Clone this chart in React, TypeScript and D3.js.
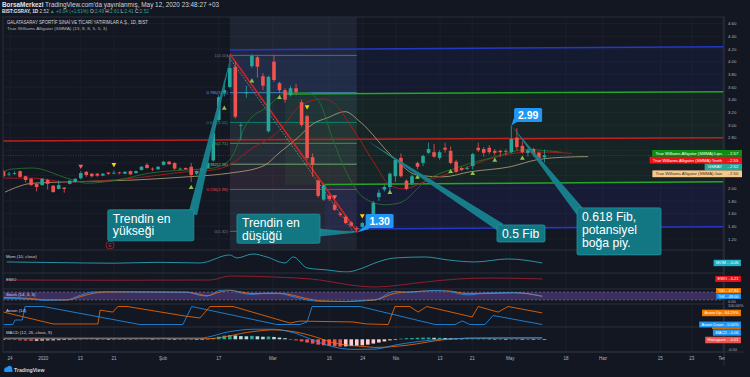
import React from 'react';
import * as d3 from 'd3';

const FONT = "'Liberation Sans', Arial, sans-serif";

// ---------- price candles (bar index 0..98, Dec 2019 -> May 12 2020) ----------
const opens = [2.27,2.22,2.23,2.27,2.19,2.15,2.07,2.05,2.13,2.04, 1.99,2.01,2.07,2.10,2.16,2.26,2.23,2.23,2.20,2.25, 2.24,2.25,2.23,2.27,2.24,2.29,2.37,2.31,2.30,2.37, 2.42,2.40,2.30,2.32,2.34,2.23,2.27,2.32,2.44,3.08, 3.51,3.60,3.92,2.99,3.50,3.93,4.07,3.77,2.90,4.00, 3.66,3.55,3.47,3.58,3.36,3.14,2.49,2.12,1.82,1.88, 1.74,1.60,1.55,1.46,1.37,1.39,1.44,1.58,1.86,1.98, 2.02,2.19,2.48,2.12,2.08,2.40,2.40,2.56,2.57,2.48, 2.64,2.59,2.42,2.32,2.31,2.35,2.64,2.62,2.64,2.59, 2.59,2.59,2.57,2.80,2.67,2.56,2.62,2.56,2.49];
const highs = [2.30,2.26,2.27,2.28,2.20,2.16,2.08,2.16,2.15,2.05, 2.12,2.02,2.13,2.16,2.27,2.27,2.24,2.24,2.24,2.25, 2.28,2.26,2.27,2.28,2.28,2.35,2.40,2.33,2.35,2.43, 2.43,2.41,2.33,2.33,2.40,2.28,2.33,2.41,2.90,3.47, 3.70,4.10,4.00,3.03,3.62,4.12,4.10,3.82,3.78,4.10, 3.68,3.58,3.62,3.65,3.40,3.16,2.55,2.14,2.08,1.90, 1.78,1.62,1.57,1.48,1.40,1.47,1.58,1.80,1.98,2.05, 2.25,2.47,2.55,2.14,2.22,2.42,2.53,2.72,2.70,2.60, 2.72,2.66,2.45,2.34,2.35,2.56,2.72,2.65,2.68,2.62, 2.61,2.62,2.99,2.95,2.74,2.63,2.64,2.58,2.61];
const lows = [2.17,2.19,2.21,2.17,2.09,2.04,1.95,2.04,1.98,1.93, 1.98,1.93,2.06,2.09,2.14,2.18,2.17,2.18,2.19,2.21, 2.22,2.22,2.22,2.21,2.23,2.28,2.31,2.27,2.29,2.36, 2.37,2.29,2.29,2.29,2.10,2.21,2.26,2.31,2.42,3.05, 3.45,3.58,3.10,2.76,3.43,3.90,3.75,3.55,2.88,3.68, 3.50,3.35,3.45,3.48,2.97,2.45,2.18,1.85,1.80,1.80, 1.64,1.55,1.43,1.39,1.30,1.37,1.42,1.56,1.80,1.95, 1.95,2.10,2.17,1.97,2.05,2.30,2.35,2.54,2.48,2.45, 2.56,2.38,2.24,2.27,2.29,2.30,2.57,2.50,2.54,2.52, 2.50,2.52,2.55,2.60,2.55,2.50,2.50,2.44,2.41];
const closes = [2.19,2.23,2.24,2.18,2.13,2.05,2.02,2.15,2.07,1.94, 2.05,1.99,2.12,2.15,2.24,2.21,2.19,2.20,2.23,2.23, 2.245,2.24,2.26,2.22,2.27,2.34,2.32,2.30,2.34,2.42, 2.38,2.31,2.31,2.30,2.21,2.27,2.32,2.40,2.87,3.44, 3.55,3.90,3.13,3.00,3.52,4.09,3.92,3.62,3.76,3.71, 3.55,3.40,3.58,3.52,3.00,2.48,2.37,1.88,2.05,1.83, 1.66,1.58,1.45,1.41,1.36,1.45,1.56,1.77,1.93,2.02, 2.23,2.45,2.19,1.99,2.19,2.34,2.51,2.62,2.50,2.57, 2.61,2.40,2.26,2.29,2.32,2.54,2.60,2.56,2.57,2.56, 2.57,2.58,2.78,2.65,2.57,2.60,2.54,2.48,2.52];

// ---------- axes ----------
const priceTicks = [1.2,1.4,1.6,1.8,2.0,2.2,2.4,2.6,2.8,3.0,3.2,3.4,3.6,3.8,4.0,4.2,4.4,4.6];
const timeTickIdx = [1.2,7.2,13.9,20,28.9,39,48.8,59,65.1,71.1,79.1,84.9,91.8,101.9,108.6,119,124.7,130.3];
const timeTickLabels = ['24','2020','13','21','Şub','17','Mar','16','24','Nis','13','21','May','18','Haz','15','23','Tem'];

// ---------- Williams Alligator (index, price) ----------
const jawIdx = [0.3,5.3,11.5,23.5,33.2,38,41,47,50.1,53.2,56.1,58.6,61.9,64.6,70.6,74.9,79.6,84.5,91.8,96.6,101.4,105.9];
const jawVal = [1.94,2.08,2.10,2.13,2.18,2.21,2.24,2.35,2.57,2.79,3.02,3.11,3.21,3.05,2.49,2.21,2.18,2.26,2.34,2.45,2.49,2.50];
const teethIdx = [0.1,5.3,11.5,23.5,33.2,38,41,44.7,50.1,53.7,57.9,60.1,62.2,64.6,67,70,72.4,76.7,82.7,88.7,94.8,98.5,103];
const teethVal = [2.16,2.16,2.10,2.16,2.26,2.29,2.37,2.61,2.92,3.30,3.41,3.33,3.08,2.76,2.42,2.05,1.99,2.12,2.29,2.48,2.57,2.57,2.55];
const lipsIdx = [0.1,1.2,5.3,11.5,15.1,20.6,26.5,33.2,38,41,44.1,47.7,51.4,55,57.3,59.7,62.2,65.1,69.1,71.8,76.7,82.7,88.7,94.8,101];
const lipsVal = [2.26,2.30,2.32,2.16,2.08,2.13,2.24,2.29,2.32,2.45,3.03,3.28,3.51,3.51,3.35,2.76,2.24,1.86,1.74,1.77,2.13,2.34,2.49,2.61,2.57];

// ---------- fractal markers ----------
const markerIdx = [14,20,34,40,45,50,55,60,65,70,75,81,85,89,94];
const markerPrice = [2.34,2.37,2.02,3.27,3.70,3.44,3.28,1.86,1.56,1.94,2.18,2.27,2.24,2.45,2.48];
const markerType = ['dnRed','dnYellow','up','up','up','up','dnYellow','dnRed','dnYellow','up','up','up','up','up','up'];

// ---------- drawings ----------
const fibLevels = ['1','0.786','0.618','0.5','0.382','0.236','0'];
const fibPrices = [4.10,3.51,3.04,2.71,2.38,1.98,1.32];
const fibColors = ['#787b86','#4fa3e0','#089981','#4caf50','#81c784','#f23645','#787b86'];
const fibStartIdx = 41, fibEndIdx = 64;
const hLineStartIdx = [41,51,-0.3,58.2,64];
const hLineEndIdx = [130.5,130.5,130.5,130.5,130.5];
const hLineStartP = [4.185,3.49,2.747,2.06,1.357];
const hLineEndP = [4.237,3.526,2.80,2.104,1.393];
const hLineColors = ['#2438c4','#22a822','#c0201f','#22a822','#2438c4'];
const trendFrom = [41, 4.12], trendTo = [64, 1.32];

const calloutText = [['Trendin en','yükseği'],['Trendin en','düşüğü'],['0.5 Fib'],['0.618 Fib,','potansiyel','boğa piy.']];
const calloutTipIdx = [41.3,64,65.9,92];
const calloutTipPrice = [4.12,1.30,2.75,2.99];
const calloutBoxIdx = [18.9,42.3,89.4,103.9];
const calloutBoxPrice = [1.66,1.59,1.42,1.69];
const calloutBoxSize = [[86,31],[83,29],[48,17],[84,47]];
const priceNoteText = ['1.30','2.99'];
const priceNoteTipIdx = [64,92];
const priceNoteTipPrice = [1.30,2.99];
const priceNoteBoxIdx = [65.6,92.5];
const priceNoteBoxPrice = [1.593,3.268];

// ---------- indicator panes ----------
const momIdx = [0.6,10,20,28,35.6,41,42.3,45.2,47.7,51,52.5,55,58.6,62.2,65.1,67.3,70.9,76.4,80.5,85.4,91.4,97.6];
const momVal = [0.11,0.0,-0.1,0.05,-0.06,1.27,0.77,1.44,0.94,-0.06,0.94,-0.89,-1.23,-1.56,-0.89,-0.06,0.77,0.94,0.44,0.11,0.61,-0.06];
const ewoIdx = [0.6,20,37.4,41,48.8,57.3,62.8,67.3,76.4,82.3,88.5,97.6];
const ewoVal = [0,-0.05,0,0.8,0.6,0,-1.0,-1.4,-0.4,0.2,0.4,0.21];
const stochIdx = [-0.6,5.3,7.2,11.5,13.9,16.2,18.8,23.5,33.2,35.6,36.9,39.2,41,42.8,45.2,47.7,50.1,52.5,55,57.3,62.2,65.8,67.3,70.9,73.3,78.2,80.5,84.1,87.2,92.7,97.6];
const stochK = [35,25,18,22,55,80,82,80,78,55,50,92,95,75,62,72,68,45,20,10,10,20,22,85,78,92,85,58,72,75,48];
const stochD = [40,30,22,20,45,70,80,81,79,62,52,80,90,82,68,68,70,55,30,15,9,15,20,70,80,88,88,68,68,74,47.84];
const aroonDnIdx = [0,1.7,2.1,3.4,3.9,7.2,24.7,32.5,34.1,49.5,53.7,55,55.9,64.6,67.3,78.2,81.8,83.1,84.5,87.2,88.7,97.6];
const aroonDnVal = [0,0,25,25,100,100,0,0,100,0,0,14,100,100,80,0,0,20,0,0,50,0];
const aroonUpIdx = [0,9,17.1,17.5,19.8,20.7,22.4,32.9,35.6,37.4,41.6,51.9,53.7,63.3,65.8,69.7,70.9,73.6,75.1,76.7,84.9,86,89.6,91.4,97.6];
const aroonUpVal = [69,3,3,80,69,100,100,47,36,100,100,8,19,14,3,0,100,100,69,100,42,100,69,100,64.29];
const macdIdx = [0,20,35.6,41,45.2,48.8,52.5,56.8,59.7,63.3,67.3,70.9,79.4,85.4,97.6];
const macdVal = [0.06,0.06,0.06,0.36,0.47,0.47,0.31,-0.11,-0.35,-0.47,-0.46,-0.27,0,0.05,0.06];
const signalIdx = [0,37,45.2,48.8,52.5,56.8,59.7,65.8,67.3,73.3,79.4,85.4,97.6];
const signalVal = [0.03,0.03,0.36,0.44,0.36,0.09,-0.16,-0.35,-0.38,-0.27,-0.03,0.06,0.07];
const histVal = [
-0.01,-0.02,-0.03,-0.05,-0.06,-0.07,-0.07,-0.06,-0.05,-0.05,
-0.04,-0.03,-0.02,0.01,0.02,0.03,0.03,0.02,0.02,0.01,
0.01,0.01,0.01,0.01,0.02,0.03,0.03,0.02,0.02,0.03,
0.02,0.01,-0.01,-0.02,-0.03,-0.02,-0.01,0.01,0.06,0.12,
0.17,0.2,0.18,0.15,0.14,0.16,0.14,0.12,0.13,0.11,
0.08,0.05,-0.02,-0.05,-0.1,-0.15,-0.2,-0.25,-0.28,-0.31,
-0.33,-0.34,-0.33,-0.32,-0.3,-0.28,-0.25,-0.2,-0.15,-0.1,
-0.05,-0.01,0.03,0.05,0.06,0.07,0.08,0.08,0.07,0.07,
0.06,0.05,0.04,0.03,0.03,0.03,0.04,0.04,0.03,0.02,
0.02,0.01,0.02,0.02,0.01,0.01,0.0,-0.01,-0.01];

// ---------- header text segments ----------
const header1 = [
  { t: 'BorsaMerkezi', c: '#e0e3eb', b: true },
  { t: " TradingView.com'da yayınlanmış, May 12, 2020 23:48:27 +03", c: '#d1d4dc', b: false },
];
const header2 = [
  { t: 'BIST:GSRAY, 1D', c: '#e0e3eb', b: true },
  { t: ' 2.52 ', c: '#d1d4dc', b: false },
  { t: '▲ +0.04 (+1.61%)', c: '#26a69a', b: false },
  { t: ' O:', c: '#d1d4dc', b: false },
  { t: '2.49', c: '#26a69a', b: false },
  { t: ' H:', c: '#d1d4dc', b: false },
  { t: '2.61', c: '#26a69a', b: false },
  { t: ' L:', c: '#d1d4dc', b: false },
  { t: '2.41', c: '#26a69a', b: false },
  { t: ' C:', c: '#d1d4dc', b: false },
  { t: '2.52', c: '#26a69a', b: false },
];

// ---------- layout ----------
const L = 3, R = 724, TOP = 17;
const PANES = { price: [17, 250], mom: [250, 273], ewo: [273, 289], stoch: [289, 304], aroon: [304, 327], macd: [327, 352] };
const BG = '#131722';
const GRID = '#1e222d';
const SEP = '#2a2e39';
const AXT = '#b2b5be';

const xS = d3.scaleLinear().domain([0, 130]).range([3.5, 3.5 + 5.52 * 130]);
const yP = d3.scaleLinear().domain([1.2, 4.6]).range([238.9, 23.7]);
const yMom = d3.scaleLinear().domain([-1.8, 1.6]).range([273.4, 253.0]);
const yEwo = d3.scaleLinear().domain([-1.6, 1.6]).range([288, 272]);
const ySt = d3.scaleLinear().domain([0, 100]).range([302.7, 289.3]);
const yAr = d3.scaleLinear().domain([0, 100]).range([324.5, 306.5]);
const yMacd = d3.scaleLinear().domain([-0.5, 0.5]).range([350, 328.6]);

let ctx: CanvasRenderingContext2D | null = null;
function tw(s: string, size: number, bold = false) {
  if (!ctx && typeof document !== 'undefined') ctx = document.createElement('canvas').getContext('2d');
  if (!ctx) return s.length * size * 0.52;
  ctx.font = `${bold ? 'bold ' : ''}${size}px 'Liberation Sans'`;
  return ctx.measureText(s).width;
}

function linePath(idx: number[], val: number[], y: d3.ScaleLinear<number, number>, curve: any = d3.curveMonotoneX) {
  const pts = idx.map((d, k) => [d, val[k]] as [number, number]);
  return d3.line<[number, number]>().x(d => xS(d[0])).y(d => y(d[1])).curve(curve)(pts) || '';
}

function wedgePath(tx: number, ty: number, bx: number, by: number, bw: number, bh: number, half: number) {
  const cx = Math.max(bx, Math.min(bx + bw, tx));
  const cy = Math.max(by, Math.min(by + bh, ty));
  const dx = tx - cx, dy = ty - cy;
  const len = Math.hypot(dx, dy) || 1;
  const ux = dx / len, uy = dy / len;
  const px = -uy, py = ux;
  const ix = cx - ux * half, iy = cy - uy * half;
  return `M${tx},${ty}L${ix + px * half},${iy + py * half}L${ix - px * half},${iy - py * half}Z`;
}

function Segments({ segs, x, y, width, base }: { segs: { t: string; c: string; b: boolean }[]; x: number; y: number; width: number; base: number }) {
  const total = segs.reduce((s, g) => s + tw(g.t, base, g.b), 0);
  const size = base * width / total;
  let cx = x;
  return (
    <g>
      {segs.map((g, k) => {
        const el = <text key={k} x={cx} y={y} fontSize={size} fill={g.c} fontWeight={g.b ? 'bold' : 'normal'} style={{ whiteSpace: 'pre' }}>{g.t}</text>;
        cx += tw(g.t, size, g.b);
        return el;
      })}
    </g>
  );
}

type Lbl = { text: string; value: string; y: number; fill: string; color: string };

function AxisLabel({ l, h = 6.6, size = 4.3 }: { l: Lbl; h?: number; size?: number }) {
  const w1 = tw(l.text, size);
  const left = l.text ? 722 - w1 - 3 : 725;
  return (
    <g>
      <rect x={left} y={l.y - h / 2} width={742 - left} height={h} fill={l.fill} />
      {l.text && <text x={722} y={l.y + size * 0.36} fontSize={size} textAnchor="end" fill={l.color} fontFamily={FONT}>{l.text}</text>}
      <text x={727.5} y={l.y + size * 0.36} fontSize={size} fill={l.color} fontFamily={FONT}>{(l.text ? '- ' : '') + l.value}</text>
    </g>
  );
}

export default function App() {
  const lastClose = closes[closes.length - 1];
  const priceLblBase = yP(lipsVal[lipsVal.length - 1]) + 1.2;
  const priceLbls: Lbl[] = [
    { text: 'True Williams Alligator (SMMA):Lips', value: lipsVal[lipsVal.length - 1].toFixed(2), y: priceLblBase, fill: '#0f8f12', color: '#fff' },
    { text: 'True Williams Alligator (SMMA):Teeth', value: teethVal[teethVal.length - 1].toFixed(2), y: priceLblBase + 6.8, fill: '#e8141a', color: '#fff' },
    { text: 'GSRAY', value: lastClose.toFixed(2), y: priceLblBase + 13.6, fill: '#26a69a', color: '#fff' },
    { text: 'True Williams Alligator (SMMA):Jaw', value: jawVal[jawVal.length - 1].toFixed(2), y: priceLblBase + 20.4, fill: '#f7c98b', color: '#3a2c18' },
  ];
  const visiblePriceTicks = priceTicks.filter(p => priceLbls.every(l => Math.abs(yP(p) - l.y) > 5.5));

  const histY0 = yMacd(0);
  const macdHist = yMacd(histVal[histVal.length - 1]);
  const subLbls: { l: Lbl; h: number }[] = [
    { l: { text: '', value: 'MOM - ' + momVal[momVal.length - 1].toFixed(2), y: yMom(momVal[momVal.length - 1]), fill: '#22b2c4', color: '#fff' }, h: 6.5 },
    { l: { text: '', value: 'EWO - ' + ewoVal[ewoVal.length - 1].toFixed(2), y: yEwo(ewoVal[ewoVal.length - 1]), fill: '#e31219', color: '#fff' }, h: 6.2 },
    { l: { text: '', value: '%D - ' + stochD[stochD.length - 1].toFixed(2), y: ySt(stochK[stochK.length - 1]) - 5.5, fill: '#f57c00', color: '#fff' }, h: 5.5 },
    { l: { text: '', value: '%K - ' + stochK[stochK.length - 1].toFixed(2), y: ySt(stochK[stochK.length - 1]), fill: '#2196f3', color: '#fff' }, h: 5.5 },
    { l: { text: '', value: 'Aroon Up - ' + aroonUpVal[aroonUpVal.length - 1].toFixed(2) + '%', y: yAr(aroonUpVal[aroonUpVal.length - 1]), fill: '#f57c00', color: '#fff' }, h: 6.6 },
    { l: { text: '', value: 'Aroon Down - ' + aroonDnVal[aroonDnVal.length - 1].toFixed(2) + '%', y: yAr(aroonDnVal[aroonDnVal.length - 1]), fill: '#2196f3', color: '#fff' }, h: 6.0 },
    { l: { text: '', value: 'MACD - ' + macdVal[macdVal.length - 1].toFixed(2), y: macdHist - 7, fill: '#2196f3', color: '#fff' }, h: 6.6 },
    { l: { text: '', value: 'Histogram - ' + histVal[histVal.length - 1].toFixed(2), y: macdHist + 0.5, fill: '#ef5350', color: '#fff' }, h: 6.6 },
  ];

  const paneClip = (name: string, y0: number, y1: number) => (
    <clipPath id={name} key={name}><rect x={L} y={y0} width={R - L} height={y1 - y0} /></clipPath>
  );

  const fs = 4.3;

  return (
    <svg width={750} height={377} style={{ position: 'fixed', left: 0, top: 0, display: 'block' }} fontFamily={FONT}>
      <defs>
        {paneClip('cp-price', PANES.price[0], PANES.price[1])}
        {paneClip('cp-mom', PANES.mom[0], PANES.mom[1])}
        {paneClip('cp-ewo', PANES.ewo[0], PANES.ewo[1])}
        {paneClip('cp-stoch', PANES.stoch[0], PANES.stoch[1])}
        {paneClip('cp-aroon', PANES.aroon[0], PANES.aroon[1])}
        {paneClip('cp-macd', PANES.macd[0], PANES.macd[1])}
        <clipPath id="cp-time"><rect x={0} y={352} width={R + 1} height={14} /></clipPath>
      </defs>
      <rect x={0} y={0} width={750} height={377} fill={BG} />

      {/* header */}
      <Segments segs={header1} x={2} y={7} width={218} base={5.5} />
      <Segments segs={header2} x={2} y={13.2} width={147} base={5.0} />

      {/* vertical grid */}
      {timeTickIdx.map((t, k) => xS(t) < R ? (
        <line key={'vg' + k} x1={xS(t)} x2={xS(t)} y1={TOP} y2={352} stroke={GRID} strokeWidth={0.8} />
      ) : null)}
      {priceTicks.map((p, k) => (
        <line key={'hg' + k} x1={L} x2={R} y1={yP(p)} y2={yP(p)} stroke={GRID} strokeWidth={0.8} />
      ))}

      {/* ===== price pane ===== */}
      <g clipPath="url(#cp-price)">
        <rect x={xS(fibStartIdx)} y={PANES.price[0]} width={xS(fibEndIdx) - xS(fibStartIdx)} height={PANES.price[1] - PANES.price[0]} fill="rgba(120,134,170,0.12)" />
        <path d={`M${xS(hLineStartIdx[0])},${yP(hLineStartP[0])}L${xS(hLineEndIdx[0])},${yP(hLineEndP[0])}L${xS(hLineEndIdx[1])},${yP(hLineEndP[1])}L${xS(hLineStartIdx[0])},${yP(3.48)}Z`} fill="rgba(41,70,220,0.08)" />
        <path d={`M${xS(hLineStartIdx[1])},${yP(hLineStartP[1])}L${xS(hLineEndIdx[1])},${yP(hLineEndP[1])}L${xS(hLineEndIdx[3])},${yP(hLineEndP[3])}L${xS(hLineStartIdx[1])},${yP(2.05)}Z`} fill="rgba(60,160,70,0.10)" />
        <path d={`M${xS(hLineStartIdx[3])},${yP(hLineStartP[3])}L${xS(hLineEndIdx[3])},${yP(hLineEndP[3])}L${xS(hLineEndIdx[4])},${yP(hLineEndP[4])}L${xS(hLineStartIdx[3])},${yP(1.35)}Z`} fill="rgba(60,60,200,0.12)" />
        {fibPrices.slice(0, -1).map((p, k) => (
          <rect key={'ff' + k} x={xS(fibStartIdx)} y={yP(p)} width={xS(fibEndIdx) - xS(fibStartIdx)} height={yP(fibPrices[k + 1]) - yP(p)} fill={fibColors[k + 1]} opacity={0.05} />
        ))}
        {fibPrices.map((p, k) => (
          <line key={'fl' + k} x1={xS(fibStartIdx)} x2={xS(fibEndIdx)} y1={yP(p)} y2={yP(p)} stroke={fibColors[k]} strokeWidth={0.9} opacity={0.85} />
        ))}
        {fibPrices.map((p, k) => (
          <text key={'ft' + k} x={xS(fibStartIdx) - 2} y={yP(p) + 1.5} fontSize={4.2} textAnchor="end" fill={fibColors[k]}>{`${fibLevels[k]}(${p.toFixed(2)})`}</text>
        ))}
        {hLineStartIdx.map((s, k) => (
          <line key={'hl' + k} x1={xS(s)} x2={xS(hLineEndIdx[k])} y1={yP(hLineStartP[k])} y2={yP(hLineEndP[k])} stroke={hLineColors[k]} strokeWidth={1.5} />
        ))}
        <line x1={L} x2={R} y1={yP(lastClose)} y2={yP(lastClose)} stroke="#26a69a" strokeWidth={0.7} strokeDasharray="1,1.5" opacity={0.55} />
        <path d={linePath(jawIdx, jawVal, yP)} fill="none" stroke="#b9a27a" strokeWidth={0.9} opacity={0.9} />
        <path d={linePath(teethIdx, teethVal, yP)} fill="none" stroke="#a91c1c" strokeWidth={0.9} />
        <path d={linePath(lipsIdx, lipsVal, yP)} fill="none" stroke="#22712a" strokeWidth={0.9} />
        <line x1={xS(trendFrom[0] - 0.4)} y1={yP(trendFrom[1] - 0.02)} x2={xS(trendTo[0] - 0.5)} y2={yP(trendTo[1] - 0.02)} stroke="#9598a1" strokeWidth={0.8} strokeDasharray="1.5,1.5" />
        <line x1={xS(trendFrom[0])} y1={yP(trendFrom[1])} x2={xS(trendTo[0])} y2={yP(trendTo[1])} stroke="#d32222" strokeWidth={1.6} />
        {opens.map((o, i) => {
          const c = closes[i];
          const up = c >= o;
          const col = up ? '#26a69a' : '#ef5350';
          const xc = xS(i);
          const top = yP(Math.max(o, c));
          const h = Math.max(0.8, yP(Math.min(o, c)) - top);
          return (
            <g key={'c' + i}>
              <line x1={xc} x2={xc} y1={yP(highs[i])} y2={yP(lows[i])} stroke={col} strokeWidth={0.8} />
              <rect x={xc - 1.8} y={top} width={3.6} height={h} fill={col} />
            </g>
          );
        })}
        {markerIdx.map((m, k) => {
          const xc = xS(m), yc = yP(markerPrice[k]);
          const t = markerType[k];
          const d = t === 'up'
            ? `M${xc},${yc - 2.3}L${xc + 2.4},${yc + 1.9}L${xc - 2.4},${yc + 1.9}Z`
            : `M${xc - 2.4},${yc - 1.9}L${xc + 2.4},${yc - 1.9}L${xc},${yc + 2.3}Z`;
          const fill = t === 'up' ? '#8bc34a' : t === 'dnYellow' ? '#ffd600' : '#f06262';
          return <path key={'m' + k} d={d} fill={fill} />;
        })}
        <circle cx={xS(19.3)} cy={245} r={4} fill={BG} stroke="#9b2226" strokeWidth={0.9} />
        <text x={xS(19.3)} y={246.8} fontSize={5} textAnchor="middle" fill="#b0313a">E</text>
      </g>

      <text x={7} y={24.2} fontSize={4.6} fill="#d1d4dc" textLength={141} lengthAdjust="spacingAndGlyphs">GALATASARAY SPORTİF SINAİ VE TİCARİ YATIRIMLAR A.Ş., 1D, BIST</text>
      <text x={7} y={30.3} fontSize={4.4} fill="#b2b5be" textLength={100} lengthAdjust="spacingAndGlyphs">True Williams Alligator (SMMA) (13, 8, 8, 5, 5, 3)</text>

      <g clipPath="url(#cp-mom)">
        <path d={linePath(momIdx, momVal, yMom)} fill="none" stroke="#2a9fb3" strokeWidth={0.9} />
      </g>
      <g clipPath="url(#cp-ewo)">
        <path d={linePath(ewoIdx, ewoVal, yEwo)} fill="none" stroke="#9c1f2c" strokeWidth={0.9} />
      </g>
      <g clipPath="url(#cp-stoch)">
        <rect x={L} y={ySt(80)} width={R - L} height={ySt(20) - ySt(80)} fill="rgba(126,87,194,0.38)" />
        <line x1={L} x2={R} y1={ySt(80)} y2={ySt(80)} stroke="#787b86" strokeWidth={0.6} strokeDasharray="2,2" />
        <line x1={L} x2={R} y1={ySt(20)} y2={ySt(20)} stroke="#787b86" strokeWidth={0.6} strokeDasharray="2,2" />
        <path d={linePath(stochIdx, stochD, ySt)} fill="none" stroke="#ff6d00" strokeWidth={0.8} />
        <path d={linePath(stochIdx, stochK, ySt)} fill="none" stroke="#2196f3" strokeWidth={0.8} />
      </g>
      <g clipPath="url(#cp-aroon)">
        <path d={linePath(aroonUpIdx, aroonUpVal, yAr, d3.curveLinear)} fill="none" stroke="#ff6d00" strokeWidth={0.8} />
        <path d={linePath(aroonDnIdx, aroonDnVal, yAr, d3.curveLinear)} fill="none" stroke="#2196f3" strokeWidth={0.8} />
      </g>
      <g clipPath="url(#cp-macd)">
        {histVal.map((v, i) => {
          const prev = i > 0 ? histVal[i - 1] : v;
          const col = v >= 0 ? (v >= prev ? '#26a69a' : '#b2dfdb') : (v < prev ? '#ef5350' : '#ffcdd2');
          const y1 = yMacd(v);
          return <rect key={'h' + i} x={xS(i) - 1.8} y={Math.min(y1, histY0)} width={3.6} height={Math.max(0.6, Math.abs(y1 - histY0))} fill={col} />;
        })}
        <path d={linePath(signalIdx, signalVal, yMacd)} fill="none" stroke="#ff6d00" strokeWidth={0.8} />
        <path d={linePath(macdIdx, macdVal, yMacd)} fill="none" stroke="#2196f3" strokeWidth={0.8} />
      </g>

      <text x={6} y={258.4} fontSize={fs} fill="#d1d4dc">Mom (10, close)</text>
      <text x={6} y={281.3} fontSize={fs} fill="#d1d4dc">EWO</text>
      <text x={6} y={295.6} fontSize={fs} fill="#d1d4dc">Stoch (14, 3, 3)</text>
      <text x={6} y={311.6} fontSize={fs} fill="#d1d4dc">Aroon (14)</text>
      <text x={6} y={333.6} fontSize={fs} fill="#d1d4dc">MACD (12, 26, close, 9)</text>

      {[PANES.mom[0], PANES.ewo[0], PANES.stoch[0], PANES.aroon[0], PANES.macd[0]].map((y, k) => (
        <line key={'sep' + k} x1={L} x2={R} y1={y} y2={y} stroke={SEP} strokeWidth={1.2} />
      ))}
      <rect x={L} y={TOP} width={R - L} height={352 - TOP} fill="none" stroke={SEP} strokeWidth={1} />
      <line x1={R} x2={R} y1={TOP} y2={366} stroke={SEP} strokeWidth={1} />
      <line x1={L} x2={745} y1={352} y2={352} stroke={SEP} strokeWidth={1} />

      {visiblePriceTicks.map((p, k) => (
        <text key={'pt' + k} x={728} y={yP(p) + 1.6} fontSize={fs} fill={AXT}>{p.toFixed(2)}</text>
      ))}
      {priceLbls.map((l, k) => <AxisLabel key={'pl' + k} l={l} h={6.8} size={4.2} />)}

      <text x={728} y={ySt(0) + 0.5} fontSize={3.9} fill={AXT}>0.00</text>
      <text x={728} y={yAr(100) + 0.5} fontSize={3.9} fill={AXT}>100.00%</text>
      <text x={728} y={351} fontSize={3.9} fill={AXT}>-0.50</text>
      {/* signal label, hidden behind the Aroon Down label as in the original */}
      <rect x={712} y={macdHist - 14 - 3.3} width={29} height={6.6} fill="#f57c00" />
      {subLbls.map((s, k) => {
        const size = 4.0;
        const w = tw(s.l.value, size) + 5;
        return (
          <g key={'sl' + k}>
            <rect x={741 - w} y={s.l.y - s.h / 2} width={w} height={s.h} fill={s.l.fill} stroke="rgba(0,0,0,0.25)" strokeWidth={0.4} />
            <text x={741 - w + 2.5} y={s.l.y + 1.45} fontSize={size} fill={s.l.color}>{s.l.value}</text>
          </g>
        );
      })}

      <g clipPath="url(#cp-time)">
        {timeTickIdx.map((t, k) => (
          <text key={'tt' + k} x={xS(t)} y={359.6} fontSize={4.5} textAnchor="middle" fill={AXT}>{timeTickLabels[k]}</text>
        ))}
      </g>

      {calloutText.map((lines, k) => {
        const bx = xS(calloutBoxIdx[k]), by = yP(calloutBoxPrice[k]);
        const [bw, bh] = calloutBoxSize[k];
        const tx = xS(calloutTipIdx[k]), ty = yP(calloutTipPrice[k]);
        const step = lines.length === 3 ? 13 : 12.5;
        return (
          <g key={'co' + k}>
            <path d={wedgePath(tx, ty, bx, by, bw, bh, 4.5)} fill="#17838f" opacity={0.95} />
            <rect x={bx} y={by} width={bw} height={bh} rx={1.5} fill="#137683" stroke="#1f95a3" strokeWidth={0.8} />
            {lines.map((ln, j) => (
              <text key={j} x={bx + 5} y={by + 13 + j * step} fontSize={12.2} fill="#ffffff">{ln}</text>
            ))}
          </g>
        );
      })}
      {priceNoteText.map((t, k) => {
        const bx = xS(priceNoteBoxIdx[k]), by = yP(priceNoteBoxPrice[k]);
        const bw = 28, bh = 14;
        const tx = xS(priceNoteTipIdx[k]), ty = yP(priceNoteTipPrice[k]);
        return (
          <g key={'pn' + k}>
            <path d={wedgePath(tx, ty, bx, by, bw, bh, 2.5)} fill="#2196f3" />
            <rect x={bx} y={by} width={bw} height={bh} rx={1.5} fill="#2196f3" />
            <text x={bx + bw / 2} y={by + 10.6} fontSize={10.5} textAnchor="middle" fill="#fff" fontWeight="bold">{t}</text>
          </g>
        );
      })}

      <g>
        <circle cx={6.5} cy={369.5} r={2.2} fill="#2196f3" />
        <circle cx={9.5} cy={368.3} r={2.6} fill="#2196f3" />
        <rect x={4.3} y={369.5} width={8.2} height={2.4} fill="#2196f3" />
        <text x={14} y={372} fontSize={5.2} fill="#d1d4dc" fontWeight="bold">TradingView</text>
      </g>
    </svg>
  );
}
